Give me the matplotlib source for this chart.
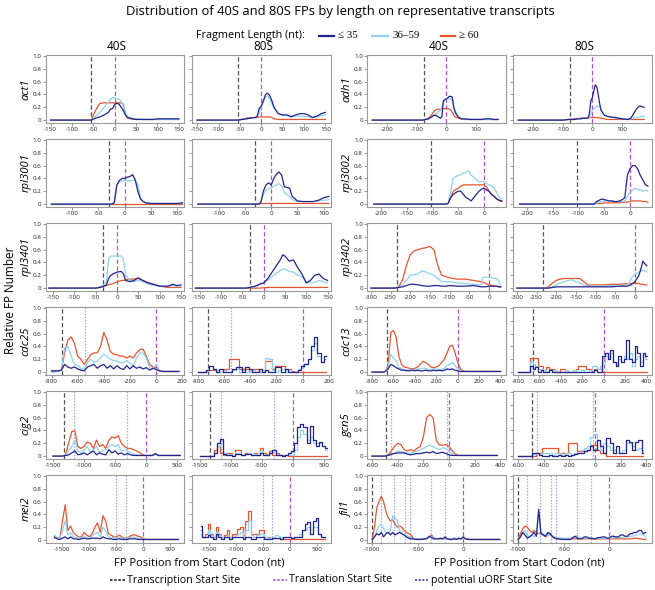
import matplotlib
matplotlib.use("Agg")
import matplotlib.pyplot as plt
from matplotlib.lines import Line2D

plt.rcParams['font.family'] = ['Open Sans', 'DejaVu Sans']
plt.rcParams['axes.unicode_minus'] = False

DARK = '#23238e'
LIGHT = '#8ed2ee'
RED = '#e4552f'
TSS_C = '#505050'
TLS_C = '#b052d6'
UORF_C = '#a4a4e6'

# ---- act1 ----
act1_x = [-150, -60, -55, -45, -35, -25, -15, -10, -5, 0, 5, 10, 15, 20, 25, 30, 40, 50, 60, 70, 80, 90, 100, 110, 120, 130, 140, 150]
act1_40_long = [0, 0, 0.01, 0.15, 0.26, 0.27, 0.27, 0.27, 0.27, 0.27, 0.27, 0.27, 0.27, 0.25, 0.1, 0.03, 0.02, 0.01, 0.01, 0.01, 0.01, 0.01, 0.01, 0.01, 0.01, 0.01, 0.01, 0.01]
act1_40_mid = [0, 0, 0.01, 0.06, 0.12, 0.2, 0.28, 0.33, 0.35, 0.35, 0.34, 0.32, 0.3, 0.22, 0.12, 0.05, 0.03, 0.02, 0.02, 0.01, 0.01, 0.01, 0.01, 0.01, 0.01, 0.01, 0.01, 0.01]
act1_40_short = [0, 0, 0, 0.03, 0.05, 0.08, 0.12, 0.17, 0.18, 0.25, 0.26, 0.25, 0.2, 0.15, 0.08, 0.04, 0.02, 0.01, 0.01, 0.01, 0.01, 0.01, 0.02, 0.02, 0.02, 0.02, 0.02, 0.02]
act1_80_long = [0, 0, 0, 0.01, 0.03, 0.04, 0.04, 0.04, 0.05, 0.05, 0.05, 0.05, 0.05, 0.05, 0.04, 0.02, 0.01, 0.01, 0.01, 0.01, 0.01, 0.01, 0.01, 0.01, 0.01, 0.01, 0.01, 0.01]
act1_80_mid = [0, 0, 0, 0.01, 0.02, 0.03, 0.04, 0.05, 0.1, 0.2, 0.3, 0.36, 0.38, 0.33, 0.25, 0.18, 0.1, 0.08, 0.08, 0.07, 0.06, 0.06, 0.06, 0.05, 0.04, 0.05, 0.07, 0.08]
act1_80_short = [0, 0, 0, 0.01, 0.02, 0.03, 0.04, 0.05, 0.18, 0.22, 0.3, 0.4, 0.42, 0.38, 0.3, 0.2, 0.1, 0.08, 0.08, 0.05, 0.08, 0.1, 0.1, 0.08, 0.04, 0.06, 0.1, 0.12]

# ---- adh1 ----
adh1_x = [-250, -100, -80, -60, -50, -40, -30, -20, -15, -10, -5, 0, 5, 10, 15, 20, 25, 30, 40, 50, 60, 80, 100, 120, 130, 150, 160, 175]
adh1_40_long = [0, 0, 0, 0.03, 0.08, 0.15, 0.17, 0.17, 0.17, 0.18, 0.18, 0.18, 0.18, 0.17, 0.16, 0.12, 0.08, 0.05, 0.03, 0.02, 0.01, 0.01, 0.01, 0.01, 0.01, 0.01, 0.01, 0.01]
adh1_40_mid = [0, 0, 0, 0.02, 0.05, 0.08, 0.12, 0.15, 0.2, 0.28, 0.3, 0.32, 0.33, 0.34, 0.33, 0.3, 0.22, 0.15, 0.05, 0.03, 0.02, 0.01, 0.01, 0.01, 0.01, 0.01, 0.01, 0.01]
adh1_40_short = [0, 0, 0, 0.02, 0.05, 0.08, 0.06, 0.03, 0.05, 0.3, 0.32, 0.33, 0.35, 0.37, 0.37, 0.36, 0.2, 0.12, 0.05, 0.02, 0.02, 0.01, 0.01, 0.01, 0.02, 0.02, 0.01, 0.01]
adh1_80_long = [0, 0, 0.01, 0.02, 0.02, 0.03, 0.03, 0.03, 0.03, 0.04, 0.04, 0.04, 0.04, 0.04, 0.04, 0.04, 0.03, 0.03, 0.02, 0.01, 0.01, 0.01, 0.01, 0.01, 0.01, 0.01, 0.01, 0.01]
adh1_80_mid = [0, 0, 0.01, 0.01, 0.02, 0.02, 0.03, 0.03, 0.03, 0.05, 0.1, 0.15, 0.18, 0.2, 0.21, 0.22, 0.2, 0.15, 0.08, 0.06, 0.05, 0.03, 0.02, 0.02, 0.02, 0.04, 0.05, 0.06]
adh1_80_short = [0, 0, 0.01, 0.01, 0.02, 0.02, 0.03, 0.03, 0.03, 0.1, 0.3, 0.35, 0.45, 0.55, 0.52, 0.4, 0.25, 0.15, 0.08, 0.06, 0.05, 0.04, 0.02, 0.01, 0.03, 0.18, 0.22, 0.2]

# ---- rpl3001 ----
rpl3001_x = [-140, -25, -20, -15, -10, -5, 0, 5, 10, 15, 20, 25, 30, 35, 40, 50, 60, 70, 80, 90, 100, 110]
rpl3001_40_long = [0.005, 0.005, 0.005, 0.005, 0.005, 0.005, 0.005, 0.005, 0.005, 0.005, 0.005, 0.005, 0.005, 0.005, 0.005, 0.005, 0.005, 0.005, 0.005, 0.005, 0.005, 0.005]
rpl3001_40_mid = [0, 0, 0.02, 0.3, 0.35, 0.36, 0.37, 0.36, 0.36, 0.37, 0.37, 0.3, 0.1, 0.04, 0.02, 0.01, 0.01, 0.01, 0.01, 0.01, 0.01, 0.01]
rpl3001_40_short = [0, 0, 0.02, 0.3, 0.37, 0.4, 0.4, 0.42, 0.43, 0.46, 0.38, 0.2, 0.08, 0.04, 0.02, 0.01, 0.01, 0.01, 0.01, 0.01, 0.01, 0.02]
rpl3001_80_long = [0, 0, 0.005, 0.01, 0.01, 0.01, 0.01, 0.01, 0.01, 0.01, 0.01, 0.01, 0.01, 0.01, 0.01, 0.01, 0.01, 0.01, 0.01, 0.01, 0.01, 0.01]
rpl3001_80_mid = [0, 0, 0.02, 0.15, 0.22, 0.24, 0.25, 0.28, 0.3, 0.32, 0.28, 0.18, 0.15, 0.12, 0.07, 0.04, 0.04, 0.04, 0.04, 0.05, 0.06, 0.07]
rpl3001_80_short = [0, 0, 0.02, 0.2, 0.3, 0.33, 0.3, 0.4, 0.47, 0.5, 0.45, 0.27, 0.26, 0.25, 0.12, 0.05, 0.04, 0.04, 0.04, 0.06, 0.1, 0.12]

# ---- rpl3002 ----
rpl3002_x = [-215, -75, -70, -65, -60, -55, -50, -45, -40, -35, -30, -25, -20, -15, -10, -5, 0, 5, 10, 15, 20, 25, 30, 35]
rpl3002_40_long = [0, 0, 0.01, 0.1, 0.2, 0.23, 0.25, 0.28, 0.3, 0.3, 0.3, 0.3, 0.3, 0.3, 0.3, 0.3, 0.3, 0.27, 0.2, 0.15, 0.12, 0.08, 0.05, 0.04]
rpl3002_40_mid = [0, 0, 0.01, 0.2, 0.4, 0.43, 0.45, 0.46, 0.48, 0.5, 0.52, 0.45, 0.42, 0.38, 0.35, 0.35, 0.35, 0.32, 0.3, 0.28, 0.25, 0.18, 0.1, 0.08]
rpl3002_40_short = [0, 0, 0.01, 0.1, 0.15, 0.18, 0.2, 0.2, 0.15, 0.1, 0.08, 0.05, 0.1, 0.15, 0.2, 0.23, 0.25, 0.22, 0.2, 0.15, 0.12, 0.08, 0.06, 0.05]
rpl3002_80_long = [0, 0, 0, 0.01, 0.01, 0.01, 0.02, 0.02, 0.02, 0.02, 0.02, 0.02, 0.02, 0.03, 0.03, 0.03, 0.04, 0.05, 0.05, 0.05, 0.05, 0.04, 0.04, 0.03]
rpl3002_80_mid = [0, 0, 0, 0.02, 0.03, 0.04, 0.05, 0.05, 0.05, 0.05, 0.04, 0.04, 0.04, 0.04, 0.05, 0.12, 0.18, 0.22, 0.25, 0.23, 0.22, 0.2, 0.22, 0.2]
rpl3002_80_short = [0, 0, 0, 0.04, 0.06, 0.08, 0.07, 0.06, 0.05, 0.05, 0.04, 0.04, 0.05, 0.07, 0.1, 0.45, 0.55, 0.6, 0.6, 0.55, 0.45, 0.38, 0.3, 0.28]

# ---- rpl3401 ----
rpl3401_x = [-160, -50, -40, -35, -25, -20, -15, -10, 0, 10, 15, 20, 30, 40, 45, 50, 60, 70, 80, 90, 100, 110, 120, 130, 140, 150]
rpl3401_40_long = [0, 0, 0.02, 0.03, 0.04, 0.05, 0.06, 0.07, 0.1, 0.12, 0.12, 0.13, 0.14, 0.14, 0.15, 0.15, 0.12, 0.09, 0.07, 0.05, 0.03, 0.02, 0.01, 0.01, 0.01, 0.01]
rpl3401_40_mid = [0, 0, 0.01, 0.03, 0.1, 0.45, 0.5, 0.5, 0.5, 0.5, 0.45, 0.2, 0.12, 0.1, 0.11, 0.12, 0.1, 0.07, 0.05, 0.04, 0.03, 0.03, 0.03, 0.04, 0.03, 0.03]
rpl3401_40_short = [0, 0, 0.01, 0.02, 0.05, 0.15, 0.2, 0.22, 0.25, 0.26, 0.22, 0.12, 0.1, 0.12, 0.14, 0.16, 0.12, 0.09, 0.07, 0.05, 0.03, 0.03, 0.03, 0.06, 0.04, 0.05]
rpl3401_80_long = [0, 0, 0, 0, 0, 0, 0, 0, 0.005, 0.01, 0.01, 0.01, 0.01, 0.01, 0.01, 0.01, 0.01, 0.01, 0.01, 0.01, 0.01, 0.01, 0.01, 0.01, 0.01, 0.01]
rpl3401_80_mid = [0, 0, 0, 0.01, 0.02, 0.03, 0.04, 0.06, 0.08, 0.12, 0.15, 0.18, 0.23, 0.28, 0.29, 0.3, 0.26, 0.25, 0.2, 0.18, 0.1, 0.08, 0.09, 0.12, 0.1, 0.08]
rpl3401_80_short = [0, 0, 0, 0.01, 0.02, 0.03, 0.04, 0.06, 0.08, 0.15, 0.2, 0.25, 0.35, 0.45, 0.52, 0.5, 0.42, 0.44, 0.32, 0.22, 0.08, 0.12, 0.2, 0.22, 0.15, 0.12]

# ---- rpl3402 ----
rpl3402_x = [-300, -240, -230, -220, -210, -200, -190, -180, -170, -160, -150, -140, -130, -120, -110, -100, -80, -60, -40, -20, -15, -10, 0, 10, 15, 20, 25, 30]
rpl3402_40_long = [0, 0, 0.02, 0.12, 0.35, 0.52, 0.58, 0.6, 0.62, 0.63, 0.65, 0.6, 0.35, 0.2, 0.18, 0.16, 0.14, 0.14, 0.12, 0.1, 0.09, 0.08, 0.05, 0.04, 0.03, 0.03, 0.02, 0.02]
rpl3402_40_mid = [0, 0, 0.01, 0.05, 0.12, 0.2, 0.21, 0.22, 0.27, 0.25, 0.22, 0.2, 0.15, 0.1, 0.1, 0.1, 0.08, 0.07, 0.06, 0.05, 0.17, 0.17, 0.17, 0.16, 0.15, 0.15, 0.1, 0.05]
rpl3402_40_short = [0, 0, 0.01, 0.02, 0.04, 0.06, 0.06, 0.05, 0.04, 0.03, 0.03, 0.04, 0.04, 0.03, 0.03, 0.04, 0.03, 0.03, 0.04, 0.02, 0.02, 0.02, 0.03, 0.03, 0.03, 0.03, 0.02, 0.02]
rpl3402_80_long = [0, 0, 0, 0.02, 0.08, 0.12, 0.14, 0.15, 0.15, 0.15, 0.15, 0.15, 0.1, 0.05, 0.05, 0.05, 0.05, 0.06, 0.06, 0.07, 0.07, 0.07, 0.08, 0.07, 0.06, 0.06, 0.05, 0.05]
rpl3402_80_mid = [0, 0, 0, 0, 0.02, 0.05, 0.08, 0.1, 0.12, 0.13, 0.1, 0.08, 0.05, 0.03, 0.03, 0.03, 0.03, 0.04, 0.03, 0.05, 0.08, 0.15, 0.22, 0.25, 0.26, 0.28, 0.27, 0.25]
rpl3402_80_short = [0, 0, 0, 0, 0.01, 0.02, 0.02, 0.02, 0.02, 0.02, 0.02, 0.02, 0.02, 0.02, 0.02, 0.02, 0.02, 0.02, 0.03, 0.03, 0.04, 0.05, 0.1, 0.2, 0.3, 0.42, 0.38, 0.35]

# ---- cdc25 ----
cdc25_x = [-800, -775, -750, -725, -700, -675, -650, -625, -600, -575, -550, -525, -500, -475, -450, -425, -400, -375, -350, -325,
           -300, -275, -250, -225, -200, -175, -150, -125, -100, -75, -50, -25, 0, 25, 50, 75, 100, 125, 150, 175]
cdc25_40_long = [0.01, 0.01, 0.02, 0.03, 0.3, 0.5, 0.55, 0.45, 0.25, 0.2, 0.12, 0.2, 0.27, 0.3, 0.3, 0.4, 0.62, 0.5, 0.32, 0.28,
                 0.27, 0.25, 0.25, 0.22, 0.25, 0.22, 0.3, 0.35, 0.36, 0.25, 0.12, 0.08, 0.07, 0.02, 0.01, 0.01, 0.01, 0.01, 0.01, 0.01]
cdc25_40_mid = [0, 0, 0.01, 0.03, 0.38, 0.4, 0.25, 0.12, 0.1, 0.06, 0.05, 0.15, 0.2, 0.15, 0.17, 0.22, 0.28, 0.24, 0.2, 0.18,
                0.17, 0.15, 0.15, 0.18, 0.14, 0.1, 0.22, 0.3, 0.3, 0.22, 0.07, 0.05, 0.12, 0.03, 0.01, 0.01, 0.01, 0.01, 0.01, 0.01]
cdc25_40_short = [0.02, 0.02, 0.02, 0.03, 0.12, 0.08, 0.06, 0.08, 0.05, 0.03, 0.02, 0.08, 0.1, 0.12, 0.06, 0.1, 0.12, 0.06, 0.1, 0.05,
                  0.1, 0.06, 0.04, 0.1, 0.05, 0.1, 0.06, 0.08, 0.05, 0.07, 0.03, 0.06, 0.04, 0.02, 0.01, 0.01, 0.01, 0.01, 0.01, 0.01]
cdc25_80_long = [0, 0, 0, 0.01, 0.04, 0.04, 0, 0, 0.05, 0.05, 0.2, 0.2, 0.2, 0.05, 0.05, 0.05, 0, 0.05, 0.05, 0,
                 0, 0.18, 0.18, 0.05, 0.1, 0.1, 0.1, 0.05, 0.05, 0.02, 0, 0, 0, 0, 0, 0, 0, 0, 0, 0]
cdc25_80_mid = [0, 0, 0, 0.02, 0.1, 0.05, 0.03, 0, 0.03, 0, 0, 0.03, 0.05, 0, 0.03, 0, 0, 0.03, 0, 0,
                0.03, 0.22, 0.2, 0.03, 0, 0.03, 0.05, 0, 0.03, 0, 0, 0.05, 0.08, 0.12, 0.2, 0.35, 0.45, 0.25, 0.15, 0.2]
cdc25_80_short = [0, 0, 0, 0.03, 0.1, 0.05, 0, 0.05, 0, 0, 0, 0.05, 0.08, 0.08, 0, 0.08, 0.05, 0, 0, 0.05,
                  0, 0.03, 0, 0, 0.08, 0.08, 0, 0.05, 0, 0, 0, 0.03, 0.1, 0.12, 0.2, 0.4, 0.55, 0.3, 0.15, 0.25]

# ---- cdc13 ----
cdc13_x = [-800, -775, -750, -725, -700, -675, -650, -625, -600, -575, -550, -525, -500, -475, -450, -425, -400, -375, -350, -325,
           -300, -275, -250, -225, -200, -175, -150, -125, -100, -75, -50, -25, 0, 25, 50, 75, 100, 125, 150, 175,
           200, 225, 250, 275, 300, 325, 350, 375, 400]
cdc13_40_long = [0, 0, 0, 0, 0, 0.01, 0.1, 0.62, 0.65, 0.55, 0.25, 0.12, 0.08, 0.07, 0.06, 0.05, 0.06, 0.08, 0.12, 0.17,
                 0.15, 0.12, 0.08, 0.07, 0.08, 0.1, 0.15, 0.2, 0.3, 0.4, 0.42, 0.3, 0.15, 0.05, 0.02, 0.01, 0.01, 0.01, 0.01, 0.01,
                 0.01, 0.01, 0.01, 0.01, 0.01, 0.01, 0.01, 0.01, 0.01]
cdc13_40_mid = [0, 0, 0, 0, 0, 0.01, 0.08, 0.28, 0.22, 0.18, 0.08, 0.05, 0.04, 0.03, 0.04, 0.03, 0.04, 0.05, 0.05, 0.06,
                0.06, 0.04, 0.04, 0.05, 0.05, 0.04, 0.04, 0.06, 0.1, 0.12, 0.15, 0.1, 0.05, 0.02, 0.01, 0.01, 0.01, 0.01, 0.01, 0.01,
                0.01, 0.01, 0.01, 0.01, 0.01, 0.01, 0.01, 0.01, 0.01]
cdc13_40_short = [0, 0, 0, 0, 0, 0.01, 0.05, 0.12, 0.1, 0.07, 0.05, 0.03, 0.03, 0.02, 0.02, 0.03, 0.02, 0.03, 0.02, 0.02,
                  0.03, 0.02, 0.02, 0.03, 0.02, 0.03, 0.02, 0.03, 0.05, 0.04, 0.05, 0.03, 0.02, 0.01, 0.01, 0.01, 0.01, 0.01, 0.01, 0.01,
                  0.01, 0.01, 0.01, 0.01, 0.01, 0.01, 0.01, 0.01, 0.01]
cdc13_80_long = [0, 0, 0, 0, 0, 0.22, 0.22, 0.22, 0.1, 0.1, 0, 0.08, 0.05, 0.05, 0, 0, 0.05, 0.05, 0, 0,
                 0, 0, 0.05, 0.1, 0.1, 0.1, 0.05, 0.05, 0, 0.05, 0.05, 0.05, 0, 0, 0, 0, 0, 0, 0, 0,
                 0, 0, 0, 0, 0, 0, 0, 0, 0]
cdc13_80_mid = [0, 0, 0, 0, 0, 0.15, 0.12, 0.1, 0.05, 0.05, 0.03, 0, 0.03, 0, 0.03, 0, 0, 0, 0.03, 0,
                0, 0.03, 0, 0, 0.03, 0, 0, 0.03, 0.1, 0.1, 0.05, 0.1, 0.15, 0.25, 0.2, 0.3, 0.15, 0.1, 0.2, 0.15,
                0.25, 0.2, 0.3, 0.1, 0.2, 0.25, 0.15, 0.3, 0.2]
cdc13_80_short = [0, 0, 0, 0, 0, 0.1, 0.05, 0.08, 0, 0.03, 0, 0, 0.03, 0, 0, 0, 0, 0, 0, 0,
                  0, 0, 0, 0, 0, 0, 0, 0, 0, 0.03, 0, 0, 0.25, 0.3, 0.2, 0.35, 0.15, 0.1, 0.25, 0.15,
                  0.2, 0.5, 0.2, 0.15, 0.4, 0.3, 0.1, 0.3, 0.25]

# ---- cig2 ----
cig2_x = [-1500, -1450, -1400, -1350, -1300, -1250, -1200, -1150, -1100, -1050, -1000, -950, -900, -850, -800, -750, -700, -650, -600, -550,
          -500, -450, -400, -350, -300, -250, -200, -150, -100, -50, 0, 50, 100, 150, 200, 250, 300, 350, 400, 450, 500, 550]
cig2_40_long = [0, 0, 0, 0, 0.02, 0.2, 0.38, 0.4, 0.15, 0.12, 0.15, 0.22, 0.2, 0.12, 0.25, 0.15, 0.18, 0.12, 0.25, 0.3,
                0.28, 0.32, 0.2, 0.15, 0.12, 0.12, 0.1, 0.08, 0.05, 0.02, 0.01, 0.01, 0.01, 0.03, 0.01, 0.01, 0.01, 0.01, 0.01, 0.01, 0.01, 0.01]
cig2_40_mid = [0, 0, 0, 0, 0.01, 0.08, 0.15, 0.25, 0.08, 0.05, 0.1, 0.15, 0.06, 0.1, 0.15, 0.06, 0.08, 0.1, 0.15, 0.18,
               0.15, 0.18, 0.08, 0.1, 0.08, 0.05, 0.03, 0.02, 0.01, 0.01, 0.01, 0.01, 0.01, 0.02, 0.01, 0.01, 0.01, 0.01, 0.01, 0.01, 0.01, 0.01]
cig2_40_short = [0, 0, 0, 0, 0.01, 0.02, 0.05, 0.08, 0.02, 0.03, 0.05, 0.02, 0.05, 0.08, 0.02, 0.05, 0.03, 0.02, 0.1, 0.05,
                 0.08, 0.03, 0.05, 0.02, 0.04, 0.02, 0.01, 0.01, 0.01, 0.01, 0.01, 0.01, 0.01, 0.04, 0.01, 0.01, 0.01, 0.01, 0.01, 0.01, 0.01, 0.01]
cig2_80_long = [0, 0, 0, 0, 0, 0.1, 0.15, 0.05, 0.02, 0.05, 0.05, 0, 0.1, 0.1, 0.02, 0.05, 0.05, 0.02, 0.05, 0.02,
                0.12, 0.05, 0.02, 0.08, 0.02, 0.05, 0.02, 0.02, 0.02, 0, 0, 0, 0, 0, 0, 0, 0, 0, 0, 0, 0, 0]
cig2_80_mid = [0, 0, 0, 0, 0, 0.05, 0.15, 0.25, 0.05, 0.02, 0.03, 0, 0.05, 0.05, 0.02, 0.03, 0.05, 0.02, 0.03, 0.02,
               0.08, 0.02, 0.02, 0.05, 0.1, 0.02, 0.02, 0, 0.02, 0.02, 0.02, 0.1, 0.3, 0.4, 0.35, 0.25, 0.3, 0.2, 0.2, 0.2, 0.15, 0.1]
cig2_80_short = [0, 0, 0, 0, 0, 0.05, 0.2, 0.27, 0.03, 0.02, 0.02, 0, 0.03, 0.03, 0.02, 0.03, 0.03, 0.02, 0.02, 0.02,
                 0.05, 0.02, 0.02, 0.05, 0.1, 0.02, 0.02, 0, 0.02, 0.05, 0.08, 0.2, 0.45, 0.5, 0.45, 0.2, 0.47, 0.25, 0.15, 0.22, 0.15, 0.12]

# ---- gcn5 ----
gcn5_x = [-600, -575, -550, -525, -500, -475, -450, -425, -400, -375, -350, -325, -300, -275, -250, -225, -200, -175, -150, -125,
          -100, -75, -50, -25, 0, 25, 50, 75, 100, 125, 150, 175, 200, 225, 250, 275, 300, 325, 350, 375]
gcn5_40_long = [0, 0, 0, 0, 0, 0.02, 0.08, 0.15, 0.2, 0.18, 0.1, 0.08, 0.1, 0.08, 0.12, 0.15, 0.3, 0.6, 0.65, 0.6,
                0.25, 0.17, 0.17, 0.18, 0.15, 0.08, 0.03, 0.01, 0.01, 0.01, 0.01, 0.01, 0.01, 0.01, 0.01, 0.01, 0.01, 0.01, 0.01, 0.01]
gcn5_40_mid = [0, 0, 0, 0, 0, 0.01, 0.03, 0.05, 0.08, 0.07, 0.06, 0.05, 0.05, 0.06, 0.08, 0.1, 0.12, 0.15, 0.17, 0.15,
               0.12, 0.1, 0.13, 0.12, 0.08, 0.03, 0.01, 0.01, 0.01, 0.01, 0.01, 0.01, 0.01, 0.01, 0.01, 0.01, 0.01, 0.01, 0.01, 0.01]
gcn5_40_short = [0, 0, 0, 0, 0, 0.01, 0.03, 0.04, 0.05, 0.05, 0.05, 0.03, 0.02, 0.03, 0.04, 0.04, 0.05, 0.06, 0.05, 0.07,
                 0.04, 0.05, 0.06, 0.04, 0.02, 0.01, 0.01, 0.01, 0.01, 0.01, 0.01, 0.01, 0.01, 0.01, 0.01, 0.01, 0.01, 0.01, 0.01, 0.01]
gcn5_80_long = [0, 0, 0, 0, 0, 0, 0.05, 0.05, 0.12, 0.12, 0.12, 0.12, 0.12, 0.05, 0.05, 0.05, 0.2, 0.2, 0.2, 0.08,
                0.08, 0.08, 0.1, 0.18, 0.18, 0.1, 0.05, 0.05, 0, 0, 0, 0, 0, 0, 0, 0, 0, 0, 0, 0]
gcn5_80_mid = [0, 0, 0, 0, 0, 0.03, 0.05, 0.02, 0.05, 0.05, 0.05, 0.02, 0.05, 0.05, 0.02, 0.05, 0.05, 0.02, 0.05, 0.05,
               0.1, 0.12, 0.15, 0.3, 0.35, 0.25, 0.1, 0.2, 0.15, 0.1, 0.1, 0.05, 0.05, 0.1, 0.2, 0.2, 0.15, 0.1, 0.12, 0.1]
gcn5_80_short = [0, 0, 0, 0, 0, 0.05, 0.05, 0.02, 0, 0, 0.02, 0, 0, 0.02, 0, 0.02, 0, 0.02, 0.03, 0.05,
                 0.05, 0.08, 0.1, 0.15, 0.1, 0.25, 0.15, 0.05, 0.28, 0.2, 0.05, 0.15, 0.05, 0.05, 0.25, 0.22, 0.1, 0.22, 0.25, 0.05]

# ---- mei2 ----
mei2_x = [-1650, -1600, -1550, -1500, -1450, -1400, -1350, -1300, -1250, -1200, -1150, -1100, -1050, -1000, -950, -900, -850, -800, -750, -700,
          -650, -600, -550, -500, -450, -400, -350, -300, -250, -200, -150, -100, -50, 0, 50, 100, 150, 200, 250, 300,
          350, 400, 450, 500, 550, 600, 650]
mei2_40_long = [0.06, 0.04, 0.02, 0.3, 0.55, 0.15, 0.22, 0.12, 0.08, 0.05, 0.05, 0.12, 0.08, 0.05, 0.1, 0.2, 0.27, 0.12, 0.38, 0.3,
                0.1, 0.08, 0.05, 0.05, 0.08, 0.05, 0.03, 0.03, 0.06, 0.08, 0.08, 0.06, 0.05, 0.02, 0.01, 0.01, 0.01, 0.01, 0.01, 0.01,
                0.01, 0.01, 0.01, 0.01, 0.01, 0.01, 0.01]
mei2_40_mid = [0.08, 0.03, 0.02, 0.15, 0.3, 0.08, 0.12, 0.05, 0.04, 0.03, 0.03, 0.06, 0.04, 0.03, 0.06, 0.1, 0.12, 0.05, 0.2, 0.15,
               0.05, 0.04, 0.03, 0.03, 0.04, 0.03, 0.02, 0.02, 0.04, 0.05, 0.04, 0.03, 0.02, 0.01, 0.01, 0.01, 0.01, 0.01, 0.01, 0.01,
               0.01, 0.01, 0.01, 0.01, 0.01, 0.01, 0.01]
mei2_40_short = [0.04, 0.02, 0.01, 0.03, 0.05, 0.02, 0.05, 0.02, 0.02, 0.01, 0.02, 0.03, 0.02, 0.02, 0.03, 0.03, 0.03, 0.02, 0.05, 0.03,
                 0.02, 0.02, 0.01, 0.01, 0.02, 0.01, 0.01, 0.01, 0.02, 0.02, 0.02, 0.01, 0.01, 0.01, 0.01, 0.01, 0.01, 0.01, 0.01, 0.01,
                 0.01, 0.01, 0.01, 0.01, 0.01, 0.01, 0.01]
mei2_80_long = [0.15, 0.05, 0.1, 0.25, 0.1, 0.05, 0.2, 0.1, 0.05, 0.08, 0.15, 0.05, 0.1, 0.1, 0.18, 0.2, 0.08, 0.3, 0.45, 0.1,
                0.1, 0.1, 0.15, 0.15, 0.05, 0.05, 0.05, 0.03, 0.03, 0.03, 0.02, 0.02, 0.02, 0.02, 0.01, 0.01, 0.01, 0.01, 0.01, 0.01,
                0.01, 0.01, 0.01, 0.01, 0.01, 0.01, 0.01]
mei2_80_mid = [0.1, 0.05, 0.05, 0.15, 0.08, 0.05, 0.12, 0.08, 0.05, 0.05, 0.08, 0.05, 0.05, 0.08, 0.1, 0.12, 0.05, 0.15, 0.3, 0.08,
               0.05, 0.08, 0.1, 0.1, 0.05, 0.03, 0.05, 0.05, 0.08, 0.07, 0.05, 0.05, 0.05, 0.05, 0.03, 0.05, 0.05, 0.1, 0.15, 0.15,
               0.2, 0.1, 0.2, 0.2, 0.1, 0.05, 0.05]
mei2_80_short = [0.22, 0.05, 0.05, 0.08, 0.05, 0.02, 0.1, 0.05, 0.02, 0.05, 0.05, 0.02, 0.05, 0.05, 0.05, 0.05, 0.02, 0.05, 0.05, 0.02,
                 0.02, 0.05, 0.05, 0.05, 0.02, 0.02, 0.02, 0.03, 0.03, 0.03, 0.02, 0.05, 0.05, 0.05, 0.03, 0.05, 0.05, 0.05, 0.15, 0.25,
                 0.28, 0.1, 0.3, 0.35, 0.1, 0.05, 0.05]

# ---- fil1 ----
fil1_x = [-1000, -975, -950, -925, -900, -875, -850, -825, -800, -775, -750, -725, -700, -675, -650, -625, -600, -575, -550, -525,
          -500, -475, -450, -425, -400, -375, -350, -325, -300, -275, -250, -225, -200, -175, -150, -125, -100, -75, -50, -25,
          0, 25, 50, 75, 100, 125, 150, 175, 200, 225, 250, 275, 300, 325, 350, 375, 400]
fil1_40_long = [0.02, 0.2, 0.5, 0.6, 0.68, 0.6, 0.45, 0.35, 0.3, 0.32, 0.25, 0.2, 0.22, 0.2, 0.15, 0.12, 0.1, 0.08, 0.03, 0.02,
                0.02, 0.02, 0.02, 0.02, 0.03, 0.05, 0.08, 0.04, 0.02, 0.02, 0.02, 0.02, 0.03, 0.02, 0.02, 0.02, 0.03, 0.02, 0.02, 0.02,
                0.03, 0.02, 0.02, 0.01, 0.01, 0.01, 0.01, 0.01, 0.01, 0.01, 0.01, 0.01, 0.01, 0.01, 0.01, 0.01, 0.01]
fil1_40_mid = [0.01, 0.05, 0.15, 0.22, 0.25, 0.18, 0.12, 0.1, 0.15, 0.38, 0.35, 0.3, 0.15, 0.1, 0.08, 0.08, 0.05, 0.04, 0.02, 0.02,
               0.02, 0.02, 0.02, 0.02, 0.03, 0.05, 0.06, 0.03, 0.02, 0.02, 0.02, 0.02, 0.02, 0.02, 0.02, 0.02, 0.02, 0.02, 0.02, 0.02,
               0.02, 0.02, 0.02, 0.01, 0.01, 0.01, 0.01, 0.01, 0.01, 0.01, 0.01, 0.01, 0.01, 0.01, 0.01, 0.01, 0.01]
fil1_40_short = [0.01, 0.05, 0.1, 0.08, 0.12, 0.05, 0.1, 0.12, 0.08, 0.12, 0.08, 0.1, 0.12, 0.1, 0.08, 0.05, 0.03, 0.02, 0.02, 0.01,
                 0.01, 0.01, 0.01, 0.02, 0.02, 0.06, 0.04, 0.02, 0.02, 0.02, 0.03, 0.02, 0.05, 0.02, 0.01, 0.01, 0.02, 0.01, 0.03, 0.02,
                 0.05, 0.02, 0.01, 0.01, 0.01, 0.01, 0.01, 0.01, 0.01, 0.01, 0.01, 0.01, 0.01, 0.01, 0.01, 0.01, 0.01]
fil1_80_long = [0.02, 0.1, 0.18, 0.22, 0.2, 0.15, 0.12, 0.15, 0.12, 0.1, 0.12, 0.08, 0.05, 0.1, 0.08, 0.05, 0.03, 0.02, 0.02, 0.02,
                0.02, 0.02, 0.02, 0.02, 0.02, 0.02, 0.02, 0.02, 0.02, 0.02, 0.02, 0.02, 0.02, 0.02, 0.02, 0.02, 0.02, 0.02, 0.02, 0.02,
                0.02, 0.02, 0.02, 0.02, 0.02, 0.02, 0.02, 0.02, 0.02, 0.02, 0.02, 0.03, 0.03, 0.02, 0.02, 0.01, 0.01]
fil1_80_mid = [0.01, 0.05, 0.12, 0.15, 0.08, 0.05, 0.08, 0.05, 0.08, 0.45, 0.08, 0.1, 0.08, 0.06, 0.12, 0.05, 0.05, 0.04, 0.03, 0.03,
               0.03, 0.03, 0.03, 0.03, 0.04, 0.05, 0.08, 0.03, 0.03, 0.03, 0.03, 0.03, 0.03, 0.03, 0.03, 0.03, 0.03, 0.03, 0.03, 0.03,
               0.03, 0.03, 0.04, 0.04, 0.04, 0.04, 0.05, 0.05, 0.05, 0.06, 0.06, 0.07, 0.08, 0.09, 0.1, 0.08, 0.05]
fil1_80_short = [0.01, 0.05, 0.12, 0.08, 0.03, 0.05, 0.08, 0.12, 0.06, 0.48, 0.1, 0.08, 0.06, 0.12, 0.1, 0.06, 0.03, 0.02, 0.02, 0.01,
                 0.01, 0.01, 0.01, 0.01, 0.04, 0.06, 0.03, 0.02, 0.02, 0.05, 0.05, 0.03, 0.03, 0.02, 0.02, 0.04, 0.04, 0.05, 0.05, 0.03,
                 0.03, 0.06, 0.06, 0.05, 0.05, 0.08, 0.08, 0.06, 0.06, 0.1, 0.1, 0.12, 0.12, 0.15, 0.15, 0.1, 0.12]

# ---- panel layout: (gene, x, 40S series, 80S series, xlim, xticks, TSS, uORFs, stepped 80S) ----
left_genes = [
    ('act1', act1_x, (act1_40_short, act1_40_mid, act1_40_long), (act1_80_short, act1_80_mid, act1_80_long),
     (-162, 162), [-150, -100, -50, 0, 50, 100, 150], -55, [], False),
    ('rpl3001', rpl3001_x, (rpl3001_40_short, rpl3001_40_mid, rpl3001_40_long), (rpl3001_80_short, rpl3001_80_mid, rpl3001_80_long),
     (-151, 113), [-100, -50, 0, 50, 100], -30, [], False),
    ('rpl3401', rpl3401_x, (rpl3401_40_short, rpl3401_40_mid, rpl3401_40_long), (rpl3401_80_short, rpl3401_80_mid, rpl3401_80_long),
     (-168, 157), [-150, -100, -50, 0, 50, 100, 150], -33, [], False),
    ('cdc25', cdc25_x, (cdc25_40_short, cdc25_40_mid, cdc25_40_long), (cdc25_80_short, cdc25_80_mid, cdc25_80_long),
     (-846, 213), [-800, -600, -400, -200, 0, 200], -720, [-545], True),
    ('cig2', cig2_x, (cig2_40_short, cig2_40_mid, cig2_40_long), (cig2_80_short, cig2_80_mid, cig2_80_long),
     (-1623, 612), [-1500, -1000, -500, 0, 500], -1330, [-1160, -300], True),
    ('mei2', mei2_x, (mei2_40_short, mei2_40_mid, mei2_40_long), (mei2_80_short, mei2_80_mid, mei2_80_long),
     (-1815, 753), [-1500, -1000, -500, 0, 500], None, [-500, -330], True),
]
right_genes = [
    ('adh1', adh1_x, (adh1_40_short, adh1_40_mid, adh1_40_long), (adh1_80_short, adh1_80_mid, adh1_80_long),
     (-268, 200), [-200, -100, 0, 100], -75, [], False),
    ('rpl3002', rpl3002_x, (rpl3002_40_short, rpl3002_40_mid, rpl3002_40_long), (rpl3002_80_short, rpl3002_80_mid, rpl3002_80_long),
     (-228, 42), [-200, -150, -100, -50, 0], -103, [], False),
    ('rpl3402', rpl3402_x, (rpl3402_40_short, rpl3402_40_mid, rpl3402_40_long), (rpl3402_80_short, rpl3402_80_mid, rpl3402_80_long),
     (-310, 42), [-300, -250, -200, -150, -100, -50, 0], -235, [], False),
    ('cdc13', cdc13_x, (cdc13_40_short, cdc13_40_mid, cdc13_40_long), (cdc13_80_short, cdc13_80_mid, cdc13_80_long),
     (-847, 446), [-800, -600, -400, -200, 0, 200, 400], -660, [], True),
    ('gcn5', gcn5_x, (gcn5_40_short, gcn5_40_mid, gcn5_40_long), (gcn5_80_short, gcn5_80_mid, gcn5_80_long),
     (-639, 439), [-600, -400, -200, 0, 200, 400], -490, [-450, -20], True),
    ('fil1', fil1_x, (fil1_40_short, fil1_40_mid, fil1_40_long), (fil1_80_short, fil1_80_mid, fil1_80_long),
     (-1057, 463), [-1000, -500, 0], -1000, [-905, -760, -640, -580, -355, -205], False),
]

W, H = 655, 590
col_left = [45.5, 192, 367, 513]
col_w = 138.5
row_top = [55, 139, 223, 307, 391, 475]
row_h = 68

def fx(px):
    return px / W

def fy(py):
    return 1 - py / H

fig = plt.figure(figsize=(W / 100, H / 100), dpi=100)


def draw(ax, x, series, xlim, xticks, tss, uorfs, steps, ylabels):
    short, mid, long_ = series
    ds = 'steps-mid' if steps else 'default'
    if tss is not None:
        ax.axvline(tss, color=TSS_C, ls=(0, (3.5, 2)), lw=0.9, zorder=1)
    for u in uorfs:
        ax.axvline(u, color=UORF_C, ls=(0, (1.2, 1.2)), lw=0.9, zorder=1)
    ax.axvline(0, color=TLS_C, ls=(0, (3.5, 2)), lw=0.9, zorder=1)
    ax.plot(x, long_, color=RED, lw=0.9, drawstyle=ds, zorder=2)
    ax.plot(x, mid, color=LIGHT, lw=0.9, drawstyle=ds, zorder=3)
    ax.plot(x, short, color=DARK, lw=0.9, drawstyle=ds, zorder=4)
    ax.set_xlim(*xlim)
    ax.set_ylim(-0.045, 1.015)
    ax.set_xticks(xticks)
    ax.set_xticklabels([str(t) for t in xticks])
    ax.set_yticks([0, 0.2, 0.4, 0.6, 0.8, 1.0])
    if ylabels:
        ax.set_yticklabels(['0', '0.2', '0.4', '0.6', '0.8', '1.0'])
    else:
        ax.set_yticklabels([])
    ax.tick_params(length=2, width=0.6, color='#888888', pad=1, labelsize=4.5, labelcolor='#222222')
    for s in ax.spines.values():
        s.set_color('#9a9a9a')
        s.set_linewidth(0.8)


for half, genes in enumerate([left_genes, right_genes]):
    for r, (name, x, s40, s80, xlim, xticks, tss, uorfs, steps) in enumerate(genes):
        top = row_top[r]
        for c, (ser, st) in enumerate([(s40, False), (s80, steps)]):
            lp = col_left[half * 2 + c]
            ax = fig.add_axes([fx(lp), fy(top + row_h), col_w / W, row_h / H])
            draw(ax, x, ser, xlim, xticks, tss, uorfs, st, c == 0)
        gx = 26 if half == 0 else 347
        fig.text(fx(gx), fy(top + row_h / 2), name, rotation=90, style='italic',
                 fontsize=8.2, ha='center', va='center')

# column headers
for lp, lab in zip(col_left, ['40S', '80S', '40S', '80S']):
    fig.text(fx(lp + col_w / 2 + 2), fy(47), lab, fontsize=8.5, ha='center', va='center')

fig.text(fx(11), fy(300), 'Relative FP Number', rotation=90, fontsize=8.5, ha='center', va='center')
fig.text(fx(199), fy(563), 'FP Position from Start Codon (nt)', fontsize=8, ha='center', va='center')
fig.text(fx(519), fy(563), 'FP Position from Start Codon (nt)', fontsize=8, ha='center', va='center')

# title and top legend
fig.text(fx(340), fy(12), 'Distribution of 40S and 80S FPs by length on representative transcripts',
         fontsize=9.4, ha='center', va='center')
ly = fy(35.5)
fig.text(fx(196), ly, 'Fragment Length (nt):', fontsize=7.8, ha='left', va='center')
for (x0, x1, col, tx, lab) in [(319, 334, DARK, 338, '≤ 35'), (372, 388, LIGHT, 392, '36–59'), (441, 455, RED, 459, '≥ 60')]:
    fig.add_artist(Line2D([fx(x0), fx(x1)], [ly, ly], color=col, lw=1.6, transform=fig.transFigure))
    fig.text(fx(tx), ly, lab, fontsize=7.8, ha='left', va='center', family=['Liberation Serif', 'DejaVu Serif'])

# bottom legend
by = fy(580)
for (x0, x1, col, ls, tx, lab) in [(110, 125, '#222222', (0, (1.5, 1)), 127, 'Transcription Start Site'),
                                   (273, 287, TLS_C, (0, (1.5, 1)), 289, 'Translation Start Site'),
                                   (415, 428, '#3a3ab8', (0, (1.2, 1)), 431, 'potential uORF Start Site')]:
    fig.add_artist(Line2D([fx(x0), fx(x1)], [by, by], color=col, lw=1.2, ls=ls, transform=fig.transFigure))
    fig.text(fx(tx), by, lab, fontsize=7.7, ha='left', va='center')

fig.savefig('out.png', dpi=100)
